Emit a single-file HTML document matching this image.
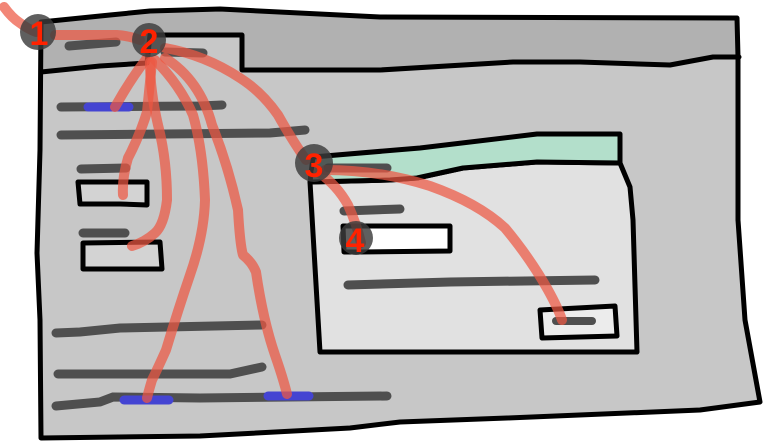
<!DOCTYPE html>
<html><head><meta charset="utf-8"><style>
html,body{margin:0;padding:0;background:#fff;}
svg{display:block;}
text{font-family:"Liberation Sans",sans-serif;font-weight:bold;}
</style></head><body>
<svg width="763" height="442" viewBox="0 0 763 442" xmlns="http://www.w3.org/2000/svg">
<!-- outer window body -->
<path d="M41,22 L110,15 L150,11 L220,9 L380,17 L737,18 L738,57 L738,220 L745,320 L760,402 L700,410 L507,418 L400,422 L350,428 L200,436 L41,438 L40,320 L37,253 L40,150 Z" fill="#c7c7c7"/>
<!-- header -->
<path d="M41,22 L110,15 L150,11 L220,9 L380,17 L737,18 L738,57 L713,57 L670,65 L580,62 L513,62 L380,70 L242,70 L242,35 L150,35 L147,63 L100,66 L41,72 Z" fill="#b1b1b1"/>
<!-- header lines -->
<polyline points="41,72 100,66 147,63 150,35 242,35 242,70 380,70 513,62 580,62 670,65 713,57 739,57" fill="none" stroke="#000" stroke-width="5" stroke-linejoin="round" stroke-linecap="round"/>
<!-- outer outline -->
<path d="M41,22 L110,15 L150,11 L220,9 L380,17 L737,18 L738,57 L738,220 L745,320 L760,402 L700,410 L507,418 L400,422 L350,428 L200,436 L41,438 L40,320 L37,253 L40,150 Z" fill="none" stroke="#000" stroke-width="5" stroke-linejoin="round"/>

<!-- header text bars -->
<g stroke="#4f4f4f" stroke-width="9" stroke-linecap="round" fill="none">
<line x1="69" y1="46" x2="116" y2="42"/>
<line x1="165" y1="52" x2="203" y2="53"/>
<!-- body bars -->
<polyline points="61,107 200,106 222,105"/>
<polyline points="61,135 270,133 305,130"/>
<line x1="81" y1="169" x2="126" y2="168"/>
<line x1="83" y1="233" x2="125" y2="233"/>
<polyline points="56,333 80,332 120,328 262,325"/>
<polyline points="58,374 230,374 262,367"/>
<polyline points="56,406 100,402 113,397 200,398 387,396"/>
</g>
<!-- blue highlights -->
<g stroke="#4444d2" stroke-width="9" stroke-linecap="round">
<line x1="88" y1="107" x2="129" y2="107"/>
<line x1="124" y1="400" x2="169" y2="400"/>
<line x1="268" y1="396" x2="309" y2="396"/>
</g>

<!-- boxes left -->
<path d="M78,182 L147,182 L147,205 L120,204 L80,204 Z" fill="#d3d3d3" stroke="#000" stroke-width="5" stroke-linejoin="round"/>
<path d="M83,243 L160,242 L162,269 L83,269 Z" fill="#d3d3d3" stroke="#000" stroke-width="5" stroke-linejoin="round"/>

<!-- sub window body -->
<path d="M310,182 L390,180 L417,178 L463,168 L537,162 L620,163 L630,187 L633,220 L637,352 L320,352 Z" fill="#e1e1e1" stroke="#000" stroke-width="5" stroke-linejoin="round"/>
<!-- green title -->
<path d="M313,157 L420,148 L537,134 L620,134 L620,163 L537,162 L463,168 L417,178 L390,180 L310,182 Z" fill="#b3dfcb" stroke="#000" stroke-width="5" stroke-linejoin="round"/>
<g stroke="#4f4f4f" stroke-width="9" stroke-linecap="round" fill="none">
<line x1="328" y1="168" x2="387" y2="168"/>
<line x1="344" y1="211" x2="400" y2="209"/>
<polyline points="348,285 450,282 595,280"/>
</g>
<!-- input -->
<path d="M343,226 L450,226 L450,251 L360,252 L344,252 Z" fill="#ffffff" stroke="#000" stroke-width="5" stroke-linejoin="round"/>
<!-- button -->
<path d="M540,310 L615,306 L617,336 L542,338 Z" fill="#ececec" stroke="#000" stroke-width="5" stroke-linejoin="round"/>
<line x1="556" y1="321" x2="592" y2="321" stroke="#4f4f4f" stroke-width="8" stroke-linecap="round"/>

<!-- red connectors -->
<g fill="none" stroke="rgba(237,87,66,0.72)" stroke-width="10" stroke-linecap="round" stroke-linejoin="round">
<path d="M4,7 Q12,18 20,23 Q28,29 36,32"/>
<path d="M55,35 L117,35 Q130,36 140,40"/>
<path d="M147,58 Q130,80 115,107"/>
<path d="M152,62 Q149,92 147,112 Q140,135 128,158 Q122,178 123,195"/>
<path d="M150,62 Q150,90 158,125 Q167,160 167,200 Q164,225 155,233 Q145,242 132,246"/>
<path d="M155,60 Q180,85 193,115 Q203,150 205,200 Q204,235 190,275 Q178,310 166,350 Q157,370 152,380 Q149,390 147,398"/>
<path d="M165,58 Q200,80 212,125 Q228,165 238,210 Q240,245 243,255 Q252,262 256,272 Q263,320 275,355 Q283,378 287,394"/>
<path d="M165,48 Q205,55 240,78 Q262,92 278,115 Q292,140 306,160"/>
<path d="M318,172 Q337,185 348,205 Q357,225 361,243"/>
<path d="M325,170 Q380,170 430,186 Q478,203 505,228 Q530,258 548,290 Q558,308 562,320"/>
</g>

<!-- circles -->
<g fill="rgba(60,60,60,0.82)">
<circle cx="38" cy="32" r="18"/>
<circle cx="149" cy="40" r="17"/>
<circle cx="314" cy="163" r="19"/>
<circle cx="356" cy="238" r="17"/>
</g>
<g fill="#ff2200" font-size="34" text-anchor="middle">
<text x="39" y="45">1</text>
<text x="149" y="53">2</text>
<text x="314" y="177">3</text>
<text x="355" y="252">4</text>
</g>
</svg>
</body></html>
